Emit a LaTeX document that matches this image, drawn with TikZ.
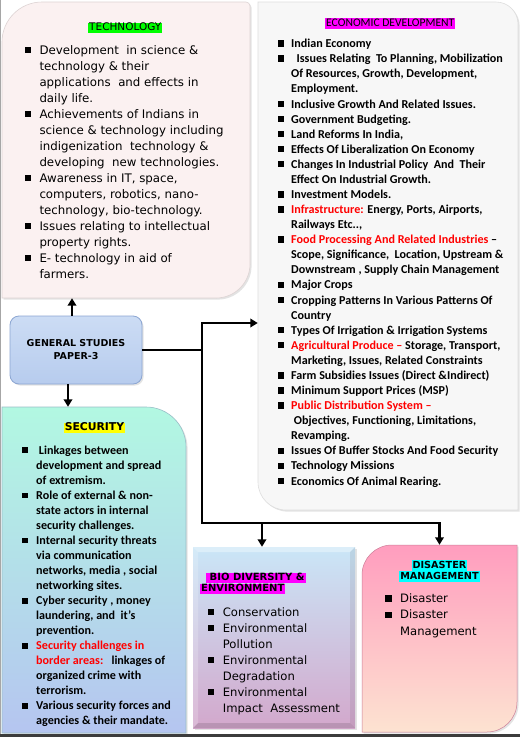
\documentclass[tikz,border=0pt]{standalone}
\usepackage{fontspec}
\setmainfont{DejaVu Sans}
\newfontfamily\verd{DejaVu Sans}
\newfontfamily\calib{Carlito}
\usetikzlibrary{arrows.meta,shadows,calc}

\definecolor{techfill}{HTML}{FBF1F1}
\definecolor{techedge}{HTML}{DDD3D3}
\definecolor{econfill}{HTML}{F7F7F7}
\definecolor{econedge}{HTML}{DEDEDE}
\definecolor{gstop}{HTML}{CCDCF4}
\definecolor{gsbot}{HTML}{B7CCEE}
\definecolor{gsedge}{HTML}{8CA6D2}
\definecolor{sectop}{HTML}{B2F8E2}
\definecolor{secbot}{HTML}{B5C5F0}
\definecolor{secedge}{HTML}{9ABFC8}
\definecolor{biotop}{HTML}{CAE6F7}
\definecolor{biobot}{HTML}{D3A8CC}
\definecolor{distop}{HTML}{FF9DBE}
\definecolor{dismid}{HTML}{FFABC3}
\definecolor{disbot}{HTML}{FDE3D1}
\definecolor{hlgreen}{HTML}{00FF00}
\definecolor{hlmag}{HTML}{FF00FF}
\definecolor{hlyel}{HTML}{FFFF00}
\definecolor{hlcyan}{HTML}{00FFFF}
\definecolor{alertred}{HTML}{FF0000}
\definecolor{framegray}{HTML}{3C3C3C}

% bullet lists: square bullet in a fixed-width column, continuation lines indented
\newlength\bulw
\newlength\bulsz
\newcommand\bul{\makebox[\bulw][l]{\rule[0.9pt]{\bulsz}{\bulsz}}}
\newcommand\cont{\hspace*{\bulw}}
\newcommand\alert[1]{\textcolor{alertred}{#1}}

\begin{document}
\begin{tikzpicture}[x=1pt,y=-1pt,
  conn/.style={line width=2.8pt, line join=miter, draw=black},
  tip/.style={-{Triangle[length=7.5pt,width=8.5pt]}},
  bothtips/.style={{Triangle[length=7.5pt,width=8.5pt]}-{Triangle[length=7.5pt,width=8.5pt]}},
  hl/.style={inner xsep=1pt, inner ysep=0pt, text height=8.2pt, text depth=2.3pt},
  listnode/.style={anchor=base west, inner sep=0pt},
  soft/.style={drop shadow={opacity=0.22, shadow xshift=1.6pt, shadow yshift=-1.6pt}},
  area/.style={inner sep=0pt, draw=none}
]
\useasboundingbox (0,0) rectangle (520,737);
\fill[white] (0,0) rectangle (520,737);

% ---- box outlines ----
% technology
\path[fill=techfill, draw=techedge, line width=0.6pt, soft]
  (2,298) -- (2,42) arc[start angle=180,end angle=270,radius=40]
  -- (246,2) arc[start angle=270,end angle=360,radius=4]
  -- (250,264) arc[start angle=0,end angle=90,radius=34] -- cycle;
\node[area, minimum width=248pt, minimum height=296pt] (tech) at (126,150) {};

% economic development
\path[fill=econfill, draw=econedge, line width=0.6pt, soft]
  (258,482) -- (258,2) -- (496,2) arc[start angle=270,end angle=360,radius=22]
  -- (518,510) -- (286,510) arc[start angle=90,end angle=180,radius=28] -- cycle;
\node[area, minimum width=260pt, minimum height=508pt] (econ) at (388,256) {};

% security
\shade[top color=sectop, bottom color=secbot, draw=secedge, line width=0.6pt, soft]
  (2,733) -- (2,407) -- (146,407) arc[start angle=270,end angle=360,radius=40]
  -- (186,733) -- cycle;
\node[area, minimum width=184pt, minimum height=326pt] (sec) at (94,570) {};

% bio diversity (bevelled panel)
\shade[top color=biotop, bottom color=biobot, soft] (193,547) rectangle (355,728);
\fill[white, opacity=0.35] (193,547) -- (355,547) -- (350,552) -- (198,552) -- cycle;
\fill[white, opacity=0.2] (193,547) -- (198,552) -- (198,723) -- (193,728) -- cycle;
\fill[black, opacity=0.07] (355,547) -- (355,728) -- (350,723) -- (350,552) -- cycle;
\fill[black, opacity=0.12] (193,728) -- (355,728) -- (350,723) -- (198,723) -- cycle;
\node[area, minimum width=162pt, minimum height=181pt] (bio) at (274,637.5) {};

% disaster management
\shade[top color=distop, middle color=dismid, bottom color=disbot, draw=distop!80!black, line width=0.5pt, soft]
  (362,732) -- (362,575) arc[start angle=180,end angle=270,radius=30]
  -- (517,545) -- (517,702) arc[start angle=0,end angle=90,radius=30] -- cycle;
\node[area, minimum width=155pt, minimum height=187pt] (dis) at (439.5,638.5) {};

% general studies
\node[shade, top color=gstop, bottom color=gsbot, draw=gsedge, line width=0.8pt,
      rounded corners=9pt, minimum width=132pt, minimum height=68pt, soft,
      align=center, font=\verd\bfseries\fontsize{9.5}{13}\selectfont]
  (gs) at (76,350) {GENERAL STUDIES\\PAPER-3};

% ---- headings ----
\node[hl, fill=hlgreen, font=\verd\fontsize{10.5}{12}\selectfont] (techhead) at (125.3,28) {TECHNOLOGY};
\node[hl, fill=hlmag, font=\calib\fontsize{11.6}{13}\selectfont] (econhead) at (390.3,23.3) {ECONOMIC DEVELOPMENT};
\node[hl, fill=hlyel, font=\verd\bfseries\fontsize{10.8}{12}\selectfont] (sechead) at (94.5,428) {SECURITY};
\node[hl, fill=hlmag, anchor=west, font=\verd\bfseries\fontsize{10}{12}\selectfont] (biohead) at (205.5,578) {\hspace{3pt}BIO DIVERSITY \&};
\node[hl, fill=hlmag, anchor=north west, font=\verd\bfseries\fontsize{10}{12}\selectfont] (biohead2) at (biohead.south west -| 200,0) {ENVIRONMENT};
\node[hl, fill=hlcyan, font=\verd\bfseries\fontsize{9.7}{12}\selectfont] (dishead) at (439.5,565.5) {DISASTER};
\node[hl, fill=hlcyan, anchor=north, font=\verd\bfseries\fontsize{9.7}{12}\selectfont] (dishead2) at (dishead.south) {MANAGEMENT};

% ---- lists ----
\node[listnode, font=\verd\fontsize{11.8}{16}\selectfont] (techlist) at (24.3,54) {%
\setlength\bulw{15pt}\setlength\bulsz{6.5pt}%
\parbox[t]{222pt}{\raggedright
\bul Development\ \ in science \&\\
\cont technology \& their\\
\cont applications\ \ and effects in\\
\cont daily life.\\
\bul Achievements of Indians in\\
\cont science \& technology including\\
\cont indigenization\ \ technology \&\\
\cont developing\ \ new technologies.\\
\bul Awareness in IT, space,\\
\cont computers, robotics, nano-\\
\cont technology, bio-technology.\\
\bul Issues relating to intellectual\\
\cont property rights.\\
\bul E- technology in aid of\\
\cont farmers.}};

\node[listnode, font=\calib\bfseries\fontsize{12.1}{15.08}\selectfont] (econlist) at (277.7,47.7) {%
\setlength\bulw{13.3pt}\setlength\bulsz{6.4pt}%
\parbox[t]{238pt}{\raggedright
\bul Indian Economy\\
\bul\ \ Issues Relating\ \ To Planning, Mobilization\\
\cont Of Resources, Growth, Development,\\
\cont Employment.\\
\bul Inclusive Growth And Related Issues.\\
\bul Government Budgeting.\\
\bul Land Reforms In India,\\
\bul Effects Of Liberalization On Economy\\
\bul Changes In Industrial Policy\ \ And\ \ Their\\
\cont Effect On Industrial Growth.\\
\bul Investment Models.\\
\bul \alert{Infrastructure:} Energy, Ports, Airports,\\
\cont Railways Etc..,\\
\bul \alert{Food Processing And Related Industries} –\\
\cont Scope, Significance,\ \ Location, Upstream \&\\
\cont Downstream , Supply Chain Management\\
\bul Major Crops\\
\bul Cropping Patterns In Various Patterns Of\\
\cont Country\\
\bul Types Of Irrigation \& Irrigation Systems\\
\bul \alert{Agricultural Produce –} Storage, Transport,\\
\cont Marketing, Issues, Related Constraints\\
\bul Farm Subsidies Issues (Direct \&Indirect)\\
\bul Minimum Support Prices (MSP)\\
\bul \alert{Public Distribution System –}\\
\cont\ Objectives, Functioning, Limitations,\\
\cont Revamping.\\
\bul Issues Of Buffer Stocks And Food Security\\
\bul Technology Missions\\
\bul Economics Of Animal Rearing.}};

\node[listnode, font=\calib\bfseries\fontsize{12.1}{15.05}\selectfont] (seclist) at (21.7,454) {%
\setlength\bulw{14.3pt}\setlength\bulsz{5.7pt}%
\parbox[t]{168pt}{\raggedright
\bul\ Linkages between\\
\cont development and spread\\
\cont of extremism.\\
\bul Role of external \& non-\\
\cont state actors in internal\\
\cont security challenges.\\
\bul Internal security threats\\
\cont via communication\\
\cont networks, media , social\\
\cont networking sites.\\
\bul Cyber security , money\\
\cont laundering, and\ \ it’s\\
\cont prevention.\\
\bul \alert{Security challenges in}\\
\cont \alert{border areas:}\ \ \ linkages of\\
\cont organized crime with\\
\cont terrorism.\\
\bul Various security forces and\\
\cont agencies \& their mandate.}};

\node[listnode, font=\verd\fontsize{11.6}{16}\selectfont] (biolist) at (207.7,616) {%
\setlength\bulw{15pt}\setlength\bulsz{6.4pt}%
\parbox[t]{145pt}{\raggedright
\bul Conservation\\
\bul Environmental\\
\cont Pollution\\
\bul Environmental\\
\cont Degradation\\
\bul Environmental\\
\cont Impact\ \ Assessment}};

\node[listnode, font=\verd\fontsize{11.6}{16.2}\selectfont] (dislist) at (385,602.7) {%
\setlength\bulw{15pt}\setlength\bulsz{6.4pt}%
\parbox[t]{128pt}{\raggedright
\bul Disaster\\
\bul Disaster\\
\cont Management}};

% ---- connectors ----
\coordinate (busmid) at (202,350);
\coordinate (bustop) at (202,323);
\coordinate (busbot) at (202,523);
\coordinate (biojoin) at (262,523);
\coordinate (disjoin) at (439.5,523);

\draw[conn, tip] ([xshift=-4pt]gs.north) -- ([xshift=-4pt]gs.north |- tech.south);
\draw[conn, tip] ([xshift=-8pt]gs.south) -- ([xshift=-8pt]gs.south |- sec.north);
\draw[conn] (gs.east) -- (busmid);
\draw[conn, bothtips] (bustop -| econ.west) -- (bustop) -- (busbot) -- (disjoin) -- (disjoin |- dis.north);
\draw[conn, tip] (biojoin) -- (biojoin |- bio.north);

% ---- frame ----
\fill[gray!70] (0,0) rectangle (1.2,737);
\fill[framegray] (0,733.5) rectangle (520,737);
\end{tikzpicture}
\end{document}
